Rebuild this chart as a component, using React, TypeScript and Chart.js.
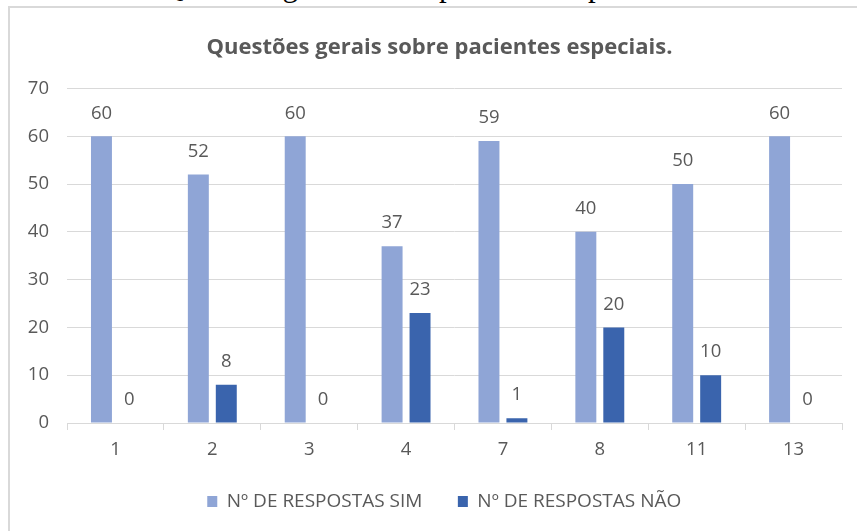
import React, { useEffect, useRef } from "react";
import { Chart, registerables } from "chart.js";

Chart.register(...registerables);

const categories = ["1", "2", "3", "4", "7", "8", "11", "13"];
const simValues = [60, 52, 60, 37, 59, 40, 50, 60];
const naoValues = [0, 8, 0, 23, 1, 20, 10, 0];
const seriesNames = ["Nº DE RESPOSTAS SIM", "Nº DE RESPOSTAS NÃO"];
const chartTitle = "Questões gerais sobre pacientes especiais.";
const captionText = "Questões gerais sobre pacientes especiais";

const TEXT = "#595959";
const GRID = "#d9d9d9";
const FONT = "'Open Sans', 'Noto Sans', sans-serif";

const valueLabels = {
  id: "valueLabels",
  afterDatasetsDraw(chart: any) {
    const ctx = chart.ctx;
    ctx.save();
    ctx.font = `18.5px ${FONT}`;
    ctx.fillStyle = TEXT;
    ctx.textAlign = "center";
    ctx.textBaseline = "middle";
    chart.data.datasets.forEach((ds: any, i: number) => {
      const meta = chart.getDatasetMeta(i);
      meta.data.forEach((el: any, j: number) => {
        ctx.fillText(String(ds.data[j]), el.x, el.y - 23);
      });
    });
    ctx.restore();
  },
};

// The original chart's title and legend are centred on the whole framed chart box,
// which is wider than the visible page; shift them to that centre.
const centreShift = {
  id: "centreShift",
  afterLayout(chart: any) {
    const t = chart.titleBlock;
    if (t) {
      t.left += 18.5;
      t.right += 18.5;
    }
    const l = chart.legend;
    if (l) {
      l.left += 23.25;
      l.right += 23.25;
    }
  },
};

export default function App() {
  const ref = useRef<HTMLCanvasElement>(null);
  useEffect(() => {
    if (!ref.current) return;
    const chart = new Chart(ref.current, {
      type: "bar",
      data: {
        labels: categories,
        datasets: [
          {
            label: seriesNames[0],
            data: simValues,
            backgroundColor: "#8FA5D6",
            categoryPercentage: 0.577,
            barPercentage: 0.75,
          },
          {
            label: seriesNames[1],
            data: naoValues,
            backgroundColor: "#3A64AD",
            categoryPercentage: 0.577,
            barPercentage: 0.75,
          },
        ],
      },
      options: {
        animation: false,
        responsive: false,
        devicePixelRatio: 1,
        layout: { padding: { top: 0.5, left: 0, right: 15, bottom: 10 } },
        plugins: {
          title: {
            display: true,
            text: chartTitle,
            color: TEXT,
            font: { family: FONT, size: 22, weight: "bold" },
            padding: { top: 34, bottom: 27.6 },
          },
          legend: {
            display: true,
            position: "bottom",
            labels: {
              color: TEXT,
              font: { family: FONT, size: 19 },
              boxWidth: 10,
              boxHeight: 11,
              padding: 35.5,
            },
          },
          tooltip: { enabled: false },
        },
        scales: {
          x: {
            grid: {
              drawOnChartArea: false,
              drawTicks: true,
              tickLength: 7,
              color: GRID,
            },
            border: { color: GRID, width: 1 },
            ticks: { color: TEXT, font: { family: FONT, size: 18.5 }, padding: 9 },
            afterFit: (scale: any) => {
              scale.height = 33.5;
            },
          },
          y: {
            min: 0,
            max: 70,
            ticks: { stepSize: 10, color: TEXT, font: { family: FONT, size: 18.5 }, padding: 18 },
            grid: { color: GRID, drawTicks: false, lineWidth: 1 },
            border: { display: false },
            afterFit: (scale: any) => {
              scale.width = 67;
            },
          },
        },
      },
      plugins: [valueLabels, centreShift],
    });
    return () => chart.destroy();
  }, []);

  return (
    <div
      style={{
        position: "absolute",
        left: 0,
        top: 0,
        width: 857,
        height: 531,
        overflow: "hidden",
        background: "#fff",
      }}
    >
      <div
        style={{
          position: "absolute",
          left: 161,
          top: -30,
          fontFamily: "'Liberation Serif', 'Times New Roman', serif",
          fontSize: 31,
          lineHeight: "31px",
          whiteSpace: "nowrap",
          color: "#000",
        }}
      >
        {captionText}
      </div>
      <div
        style={{
          position: "absolute",
          left: 8,
          top: 6,
          width: 900,
          height: 600,
          border: "2px solid #d9d9d9",
          boxSizing: "border-box",
        }}
      />
      <canvas
        ref={ref}
        width={857}
        height={531}
        style={{ position: "absolute", left: 0, top: 0, width: 857, height: 531 }}
      />
    </div>
  );
}
